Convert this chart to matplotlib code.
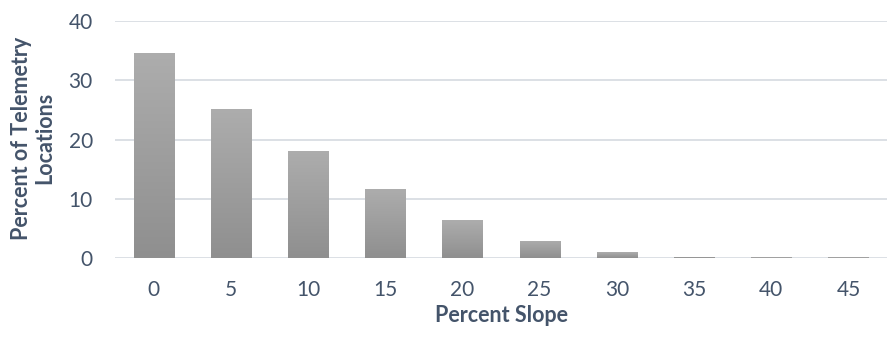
import matplotlib
matplotlib.use("Agg")
import matplotlib.pyplot as plt
import numpy as np
from matplotlib.colors import LinearSegmentedColormap

# Distribution of telemetry locations by slope class
slope_classes = ["0", "5", "10", "15", "20", "25", "30", "35", "40", "45"]
percent_locations = [34.7, 25.2, 18.1, 11.7, 6.4, 2.9, 1.0, 0.2, 0.15, 0.15]
y_ticks = [0, 10, 20, 30, 40]

plt.rcParams["font.family"] = ["Lato", "DejaVu Sans"]
text_color = "#44546a"
grid_color = "#d9dde3"

fig = plt.figure(figsize=(8.88, 3.37), dpi=100)
ax = fig.add_axes([0.1295, 0.2344, 0.8694, 0.7024])

x = np.arange(len(slope_classes))
bar_width = 0.52
bars = ax.bar(x, percent_locations, width=bar_width, color="none", zorder=3)

# vertical grey gradient inside each bar
cmap = LinearSegmentedColormap.from_list("bar_grad", ["#8f8f8f", "#adadad"])
grad = np.linspace(0, 1, 256).reshape(-1, 1)
for rect in bars:
    x0, w, h = rect.get_x(), rect.get_width(), rect.get_height()
    im = ax.imshow(grad, cmap=cmap, aspect="auto", origin="lower",
                   extent=[x0, x0 + w, 0, h], zorder=3)
    im.set_clip_path(rect)

ax.set_xlim(-0.5, len(slope_classes) - 0.5)
ax.set_ylim(0, 40)
ax.set_yticks(y_ticks)
ax.set_xticks(x)
ax.set_xticklabels(slope_classes)
ax.yaxis.grid(True, color=grid_color, linewidth=1.3, zorder=0)
ax.set_axisbelow(True)
for s in ax.spines.values():
    s.set_visible(False)
ax.tick_params(axis="both", length=0, labelsize=15, colors=text_color)
ax.tick_params(axis="x", pad=16)
ax.tick_params(axis="y", pad=16)

fig.text(0.5642, (337 - 316) / 337, "Percent Slope", fontsize=15.5,
         fontweight="bold", color=text_color, ha="center", va="center")
fig.text(33 / 888, (337 - 138) / 337, "Percent of Telemetry\nLocations",
         fontsize=15.5, fontweight="bold", color=text_color, ha="center",
         va="center", rotation=90, linespacing=1.15, multialignment="center")

fig.savefig("out.png", dpi=100)
